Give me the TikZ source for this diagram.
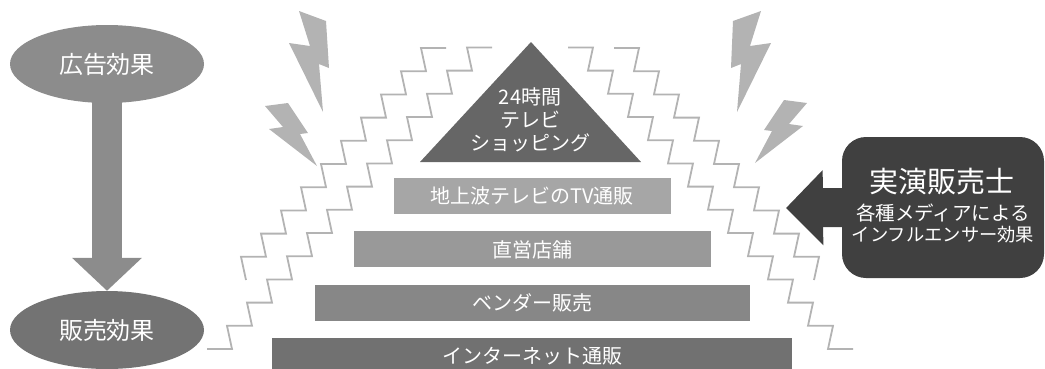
\documentclass[tikz,border=0pt]{standalone}
\usepackage{fontspec}
\setmainfont{Noto Sans CJK JP}
\usetikzlibrary{shapes.geometric,arrows.meta,positioning}

\definecolor{boltgray}{HTML}{B3B3B3}
\definecolor{adgray}{HTML}{8C8C8C}
\definecolor{salesgray}{HTML}{737373}
\definecolor{topgray}{HTML}{666666}
\definecolor{bargrayA}{HTML}{A6A6A6}
\definecolor{bargrayB}{HTML}{999999}
\definecolor{bargrayC}{HTML}{878787}
\definecolor{bargrayD}{HTML}{717171}
\definecolor{demogray}{HTML}{404040}

\tikzset{
  effetto/.style={ellipse, minimum width=194pt, minimum height=78pt, inner sep=0pt, text=white, font=\fontsize{24}{28}\selectfont},
  canale/.style={rectangle, minimum height=36pt, inner sep=0pt, text=white, font=\fontsize{20}{24}\selectfont},
  scala/.style={boltgray, line width=1.8pt},
  fulmine/.style={fill=boltgray},
}

\begin{document}
\begin{tikzpicture}[x=1pt, y=-1pt]
    \useasboundingbox (0,0) rectangle (1045,368);

    % Effetti (ellissi a sinistra)
    \node[effetto, fill=adgray] (ad) at (107,64) {広告効果};
    \node[effetto, fill=salesgray] (sales) at (107,330) {販売効果};
    \draw[adgray, line width=30pt, -{Triangle[length=33pt, width=68pt]}] ([yshift=4pt]ad.south) -- (sales.north);

    % Scalini (linee a zig-zag, sinistra)
    \draw[scala] (207,349) -- (232,349) \foreach \k in {1,...,13} { -- ++(-5,-23.2) -- ++(25,0) };
    \draw[scala] (246,280) \foreach \k in {1,...,10} { -- ++(-5,-23.2) -- ++(25,0) };

    % Scalini (speculari, destra)
    \begin{scope}[shift={(1060,0)}, xscale=-1]
        \draw[scala] (207,349) -- (232,349) \foreach \k in {1,...,13} { -- ++(-5,-23.2) -- ++(25,0) };
        \draw[scala] (246,280) \foreach \k in {1,...,10} { -- ++(-5,-23.2) -- ++(25,0) };
    \end{scope}

    % Fulmini
    \fill[fulmine] (299,11) -- (326,21) -- (329,68) -- (319,64) -- (323,112) -- (289,43) -- (310,46) -- cycle;
    \fill[fulmine] (265,106) -- (288,103) -- (308,133) -- (300,134) -- (317,166) -- (269,129) -- (283,127) -- cycle;
    \fill[fulmine] (733,21) -- (761,11) -- (750,46) -- (771,43) -- (737,112) -- (741,64) -- (731,68) -- cycle;
    \fill[fulmine] (807,103) -- (784,100) -- (764,130) -- (772,131) -- (755,163) -- (803,126) -- (789,124) -- cycle;

    % Piramide dei canali
    \fill[topgray] (420,162) -- (641,162) -- (531,42) -- cycle;
    \node[align=center, text=white, font=\fontsize{20}{23}\selectfont] (tv24) at (530,120) {24時間\\テレビ\\ショッピング};

    \node[canale, fill=bargrayA, minimum width=277pt] (terrestre) at (532,196) {地上波テレビのTV通販};
    \node[canale, fill=bargrayB, minimum width=357pt, below=17pt of terrestre] (negozi) {直営店舗};
    \node[canale, fill=bargrayC, minimum width=435pt, below=17pt of negozi] (vendor) {ベンダー販売};
    \node[canale, fill=bargrayD, minimum width=520pt, below=17pt of vendor] (internet) {インターネット通販};

    % Dimostratore (riquadro scuro con freccia)
    \node[rectangle, rounded corners=24pt, fill=demogray, minimum width=202pt, minimum height=141pt] (demo) at (943,207.5) {};
    \coordinate (demotip) at (786,208);
    \draw[demogray, line width=39pt, -{Triangle[length=37pt, width=73pt]}] ([xshift=4pt]demo.west) -- (demotip);
    \node[text=white, font=\fontsize{29}{33}\selectfont] (demoname) at (942,182) {実演販売士};
    \node[text=white, font=\fontsize{19.5}{22}\selectfont] (demomedia) at (943,213) {各種メディアによる};
    \node[text=white, font=\fontsize{18.3}{22}\selectfont] (demoinfl) at (943,235) {インフルエンサー効果};

\end{tikzpicture}
\end{document}
